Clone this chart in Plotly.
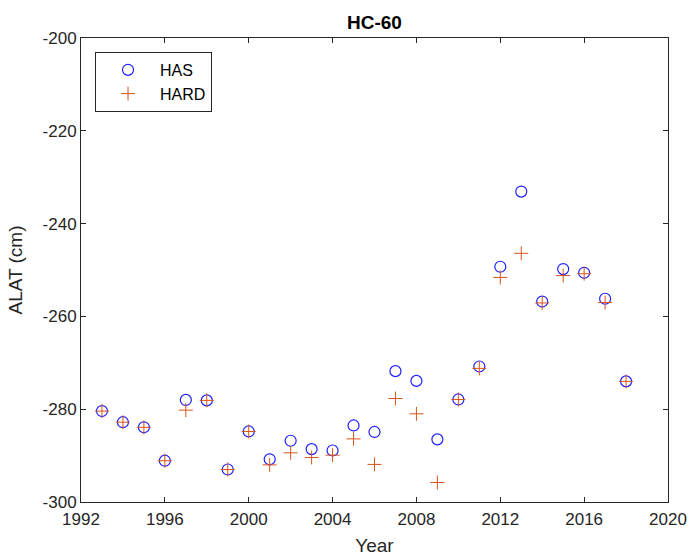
import plotly.graph_objects as go

years = list(range(1993, 2019))
has = [-280.4, -282.8, -283.9, -291.1, -278.0, -278.1, -293.0, -284.8, -290.8, -286.8,
       -288.6, -288.9, -283.5, -284.9, -271.8, -273.9, -286.5, -277.9, -270.8, -249.3,
       -233.1, -256.8, -249.8, -250.6, -256.2, -274.0]
hard = [-280.4, -282.8, -283.9, -291.1, -280.2, -278.1, -293.0, -284.8, -292.0, -289.4,
        -290.4, -289.9, -286.4, -291.9, -277.7, -281.0, -295.8, -277.9, -271.2, -251.6,
        -246.4, -257.1, -251.2, -250.8, -257.0, -274.0]

x_ticks = list(range(1992, 2021, 4))
y_ticks = list(range(-300, -199, 20))

FONT = "Liberation Sans, Arial, sans-serif"
AX = "#262626"

fig = go.Figure()
fig.add_trace(go.Scatter(
    x=years, y=has, mode="markers", name="HAS",
    marker=dict(symbol="circle-open", size=11, color="#1f1fff", line=dict(width=1.2, color="#1f1fff")),
))
fig.add_trace(go.Scatter(
    x=years, y=hard, mode="markers", name="HARD",
    marker=dict(symbol="cross-thin-open", size=10, color="#D95319", line=dict(width=1, color="#D95319")),
))

axis_common = dict(
    showgrid=False, zeroline=False, showline=True, linecolor=AX, linewidth=1,
    mirror="ticks", ticks="inside", ticklen=5, tickcolor=AX, tickwidth=1,
    tickfont=dict(family=FONT, size=17, color=AX), automargin=False,
)
fig.update_xaxes(range=[1992, 2020], tickvals=x_ticks, ticktext=[str(v) for v in x_ticks],
                 title=dict(text="Year", font=dict(family=FONT, size=19, color=AX), standoff=14),
                 ticklabelstandoff=2, **axis_common)
fig.update_yaxes(range=[-300, -200], tickvals=y_ticks, ticktext=[str(v) for v in y_ticks],
                 title=dict(text="ALAT (cm)", font=dict(family=FONT, size=19, color=AX), standoff=14),
                 **axis_common)

fig.update_layout(
    width=689, height=556,
    margin=dict(l=81, r=21, t=38, b=54),
    paper_bgcolor="white", plot_bgcolor="white",
    title=dict(text="<b>HC-60</b>", x=0.5435, xanchor="center", y=1 - 22 / 556, yanchor="middle",
               font=dict(family=FONT, size=19, color="black")),
    legend=dict(x=0.0239, y=0.970, xanchor="left", yanchor="top",
                bordercolor=AX, borderwidth=1, bgcolor="white", itemwidth=54,
                font=dict(family=FONT, size=16, color="black"), tracegroupgap=0),
    showlegend=True,
)

fig.write_html("out.html")
